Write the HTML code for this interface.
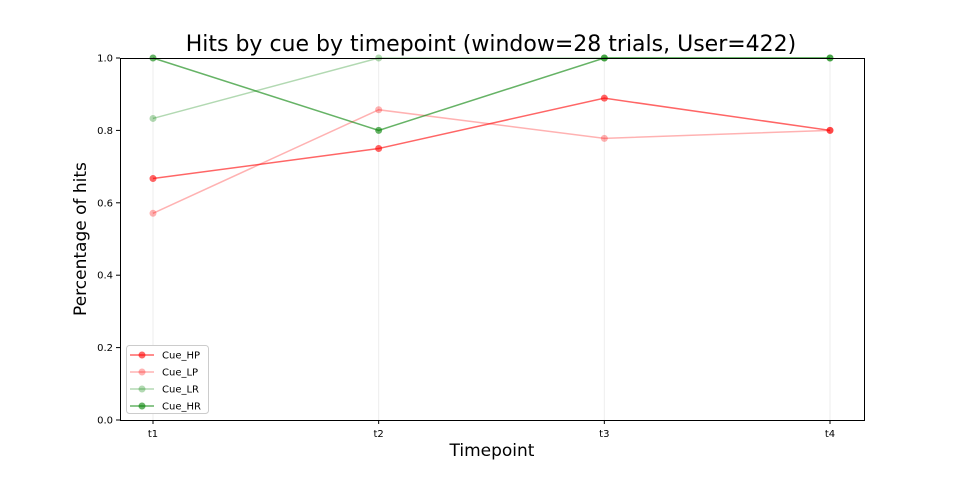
<!DOCTYPE html>
<html><head><meta charset="utf-8"><style>
body{margin:0;background:#fff;}
svg{display:block;font-family:"DejaVu Sans","Liberation Sans",sans-serif;}
</style></head><body>
<svg id="chart" width="960" height="480">
<text x="491" y="51" font-size="22" text-anchor="middle">Hits by cue by timepoint (window=28 trials, User=422)</text>
<g id="grid"></g>
<g id="axes"></g>
<g id="series"></g>
<rect x="120.5" y="58.5" width="744" height="362" fill="none" stroke="#000" stroke-width="1"/>
<text x="492" y="456" font-size="17" text-anchor="middle">Timepoint</text>
<text x="86" y="239" font-size="17" text-anchor="middle" transform="rotate(-90 86 239)">Percentage of hits</text>
<g id="legend"></g>
</svg>
<script>
const categories = ["t1","t2","t3","t4"];
const yTicks = [0,0.2,0.4,0.6,0.8,1.0];
const seriesNames = ["Cue_HP","Cue_LP","Cue_LR","Cue_HR"];
const hpValues = [0.667,0.75,0.889,0.8];
const lpValues = [0.571,0.857,0.778,0.8];
const lrValues = [0.833,1.0,1.0,1.0];
const hrValues = [1.0,0.8,1.0,1.0];
const NS="http://www.w3.org/2000/svg";
const X0=153,X1=830,Y0=420,Y1=58;
function xs(i){return X0+(X1-X0)*i/(categories.length-1);}
function ys(v){return Y0-(Y0-Y1)*v;}
function mk(t,a,p){const e=document.createElementNS(NS,t);for(const k in a)e.setAttribute(k,a[k]);p.appendChild(e);return e;}
const grid=document.getElementById('grid'),axes=document.getElementById('axes'),ser=document.getElementById('series'),leg=document.getElementById('legend');
categories.forEach((c,i)=>{
 const g=mk('line',{x1:xs(i),x2:xs(i),y1:58,y2:420,stroke:'#eee','stroke-width':1},grid);
 
 
 mk('line',{x1:xs(i),x2:xs(i),y1:420,y2:424,stroke:'#000'},axes);
 const t=mk('text',{x:xs(i),y:437,'font-size':10,'text-anchor':'middle'},axes);t.textContent=c;
 
 
});
yTicks.forEach(v=>{
 mk('line',{x1:116,x2:120,y1:ys(v),y2:ys(v),stroke:'#000'},axes);
 const t=mk('text',{x:113,y:ys(v)+3.5,'font-size':10,'text-anchor':'end'},axes);t.textContent=v.toFixed(1);
 
 
});
const all=[hpValues,lpValues,lrValues,hrValues];
const colors=['rgba(255,0,0,0.6)','rgba(255,0,0,0.3)','rgba(0,128,0,0.3)','rgba(0,128,0,0.6)'];
const names=['series-cue-hp','series-cue-lp','series-cue-lr','series-cue-hr'];
all.forEach((vals,s)=>{
 const g=mk('g',{},ser);
 
 
 mk('polyline',{points:vals.map((v,i)=>xs(i)+','+ys(v)).join(' '),fill:'none',stroke:colors[s],'stroke-width':1.5},g);
 vals.forEach((v,i)=>{const c=mk('circle',{cx:xs(i),cy:ys(v),r:3.5,fill:colors[s]},g);
  
  });
});
const lb=mk('rect',{x:126.5,y:345.5,width:82,height:68,rx:3,fill:'#fff',stroke:'#ccc'},leg);


seriesNames.forEach((n,s)=>{
 const y=355+s*17;
 const g=mk('g',{},leg);
 
 
 mk('line',{x1:130,x2:154,y1:y,y2:y,stroke:colors[s],'stroke-width':1.5},g);
 mk('circle',{cx:142,cy:y,r:3.5,fill:colors[s]},g);
 const t=mk('text',{x:162,y:y+3.5,'font-size':10},g);t.textContent=n;
});
</script>
</body></html>
